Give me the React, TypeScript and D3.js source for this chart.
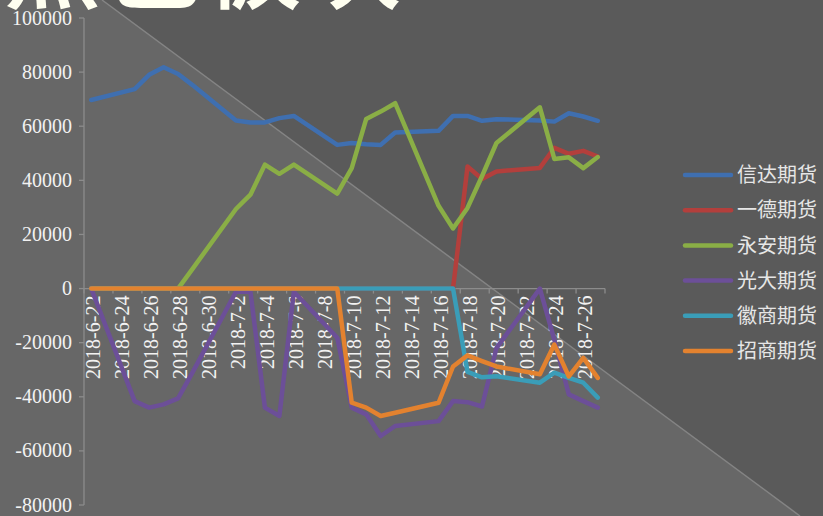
import React from "react";
import * as d3 from "d3";

const tradingDays = [
  "2018-6-22", "2018-6-25", "2018-6-26", "2018-6-27", "2018-6-28", "2018-6-29",
  "2018-7-2", "2018-7-3", "2018-7-4", "2018-7-5", "2018-7-6",
  "2018-7-9", "2018-7-10", "2018-7-11", "2018-7-12", "2018-7-13",
  "2018-7-16", "2018-7-17", "2018-7-18", "2018-7-19", "2018-7-20",
  "2018-7-23", "2018-7-24", "2018-7-25", "2018-7-26", "2018-7-27",
];

const tickLabels = [
  "2018-6-22", "2018-6-24", "2018-6-26", "2018-6-28", "2018-6-30",
  "2018-7-2", "2018-7-4", "2018-7-6", "2018-7-8", "2018-7-10",
  "2018-7-12", "2018-7-14", "2018-7-16", "2018-7-18", "2018-7-20",
  "2018-7-22", "2018-7-24", "2018-7-26",
];

const yTicks = [-80000, -60000, -40000, -20000, 0, 20000, 40000, 60000, 80000, 100000];

const seriesNames = ["信达期货", "一德期货", "永安期货", "光大期货", "徽商期货", "招商期货"];
const seriesColors = ["#3f6fb0", "#b33f3c", "#8aae46", "#6c4f98", "#3a9db8", "#e3822f"];

const xinda = [69700, 73700, 79000, 81800, 79300, 75200, 62100, 61400, 61400, 63000, 63800, 53100, 53800, 53300, 53100, 57700, 58300, 63800, 63800, 62000, 62600, 62100, 61700, 64800, 63600, 62000];
const yide = [0, 0, 0, 0, 0, 0, 0, 0, 0, 0, 0, 0, 0, 0, 0, 0, 0, 0, 45100, 40500, 43300, 44600, 52000, 49800, 50900, 48800];
const yongan = [0, 0, 0, 0, 0, 7300, 29400, 34700, 45800, 42400, 45800, 35100, 44500, 62700, 65400, 68500, 30600, 22200, 29800, 41500, 53800, 67000, 47900, 48500, 44500, 48600];
const guangda = [0, -41600, -44000, -42800, -40600, -31000, -1200, -1200, -44000, -47100, -1200, -18200, -44000, -46500, -54500, -50800, -49000, -41600, -42000, -43600, -22000, 0, -19000, -39100, -41600, -44000];
const huishang = [0, 0, 0, 0, 0, 0, 0, 0, 0, 0, 0, 0, 0, 0, 0, 0, 0, 0, -30800, -32800, -32400, -34800, -31100, -33000, -34800, -40300];
const zhaoshang = [0, 0, 0, 0, 0, 0, 0, 0, 0, 0, 0, 0, -42200, -44000, -47100, -45900, -42200, -28800, -24700, -26800, -28800, -31700, -20700, -32500, -25600, -33000];

const seriesValues = [xinda, yide, yongan, guangda, huishang, zhaoshang];

const W = 823;
const H = 516;

export default function App() {
  const parse = d3.timeParse("%Y-%m-%d");
  const start = parse(tradingDays[0]) as Date;
  const dayIndex = (s: string) => d3.timeDay.count(start, parse(s) as Date);
  const lastIdx = dayIndex(tradingDays[tradingDays.length - 1]);

  const x = d3.scaleLinear().domain([-0.5, lastIdx + 0.5]).range([84, 605]);
  const y = d3.scaleLinear().domain([-80000, 100000]).range([505, 18]);

  const line = d3
    .line<[number, number]>()
    .x((d) => x(d[0]))
    .y((d) => y(d[1]));

  const xs = tradingDays.map(dayIndex);
  const tickBounds = d3.range(0, lastIdx + 2, 2).map((i) => i - 0.5);

  const axisColor = "#8c8c8c";
  const textColor = "#f2f2f2";

  return (
    <svg
      width={W}
      height={H}
      style={{ position: "absolute", left: 0, top: 0, display: "block" }}
    >
      <rect x={0} y={0} width={W} height={H} fill="#5a5a5a" />
      <polygon points={`0,0 102,0 800,${H} 0,${H}`} fill="#676767" />
      <line x1={102} y1={0} x2={800} y2={H} stroke="#848484" strokeWidth={1.5} />

      <text
        x={2}
        y={1}
        fontFamily="'Noto Sans CJK SC'"
        fontWeight={500}
        fontSize={100}
        fill="#fffff0"
      >
        黑色板块
      </text>

      {/* Y axis */}
      <line x1={84} x2={84} y1={y(100000)} y2={y(-80000)} stroke={axisColor} strokeWidth={1.3} />
      {yTicks.map((t) => (
        <g key={t}>
          <line x1={79} x2={84} y1={y(t)} y2={y(t)} stroke={axisColor} strokeWidth={1.3} />
          <text
            x={72}
            y={y(t)}
            dy="0.33em"
            textAnchor="end"
            fontFamily="'Liberation Serif'"
            fontSize={20}
            fill={textColor}
          >
            {t}
          </text>
        </g>
      ))}

      {/* X axis */}
      <line x1={84} x2={605} y1={y(0)} y2={y(0)} stroke={axisColor} strokeWidth={1.3} />
      {tickBounds.map((b) => (
        <line key={b} x1={x(b)} x2={x(b)} y1={y(0)} y2={y(0) + 5} stroke={axisColor} strokeWidth={1.3} />
      ))}
      {tickLabels.map((l) => (
        <text
          key={l}
          transform={`translate(${x(dayIndex(l))},${y(0) + 7}) rotate(-90)`}
          dy="0.45em"
          textAnchor="end"
          fontFamily="'Liberation Serif'"
          fontSize={20}
          fill={textColor}
        >
          {l}
        </text>
      ))}

      {/* Series */}
      {seriesValues.map((vals, si) => (
        <path
          key={seriesNames[si]}
          d={line(vals.map((v, i) => [xs[i], v] as [number, number])) || ""}
          fill="none"
          stroke={seriesColors[si]}
          strokeWidth={4.5}
          strokeLinejoin="round"
          strokeLinecap="round"
        />
      ))}

      {/* Legend */}
      {seriesNames.map((n, i) => {
        const ly = 175 + i * 35.2;
        return (
          <g key={n}>
            <line x1={685} x2={731} y1={ly} y2={ly} stroke={seriesColors[i]} strokeWidth={4.5} strokeLinecap="round" />
            <text
              x={737}
              y={ly}
              dy="0.36em"
              fontFamily="'Noto Sans CJK SC'"
              fontSize={20}
              fill="#e6e6e6"
            >
              {n}
            </text>
          </g>
        );
      })}
    </svg>
  );
}
